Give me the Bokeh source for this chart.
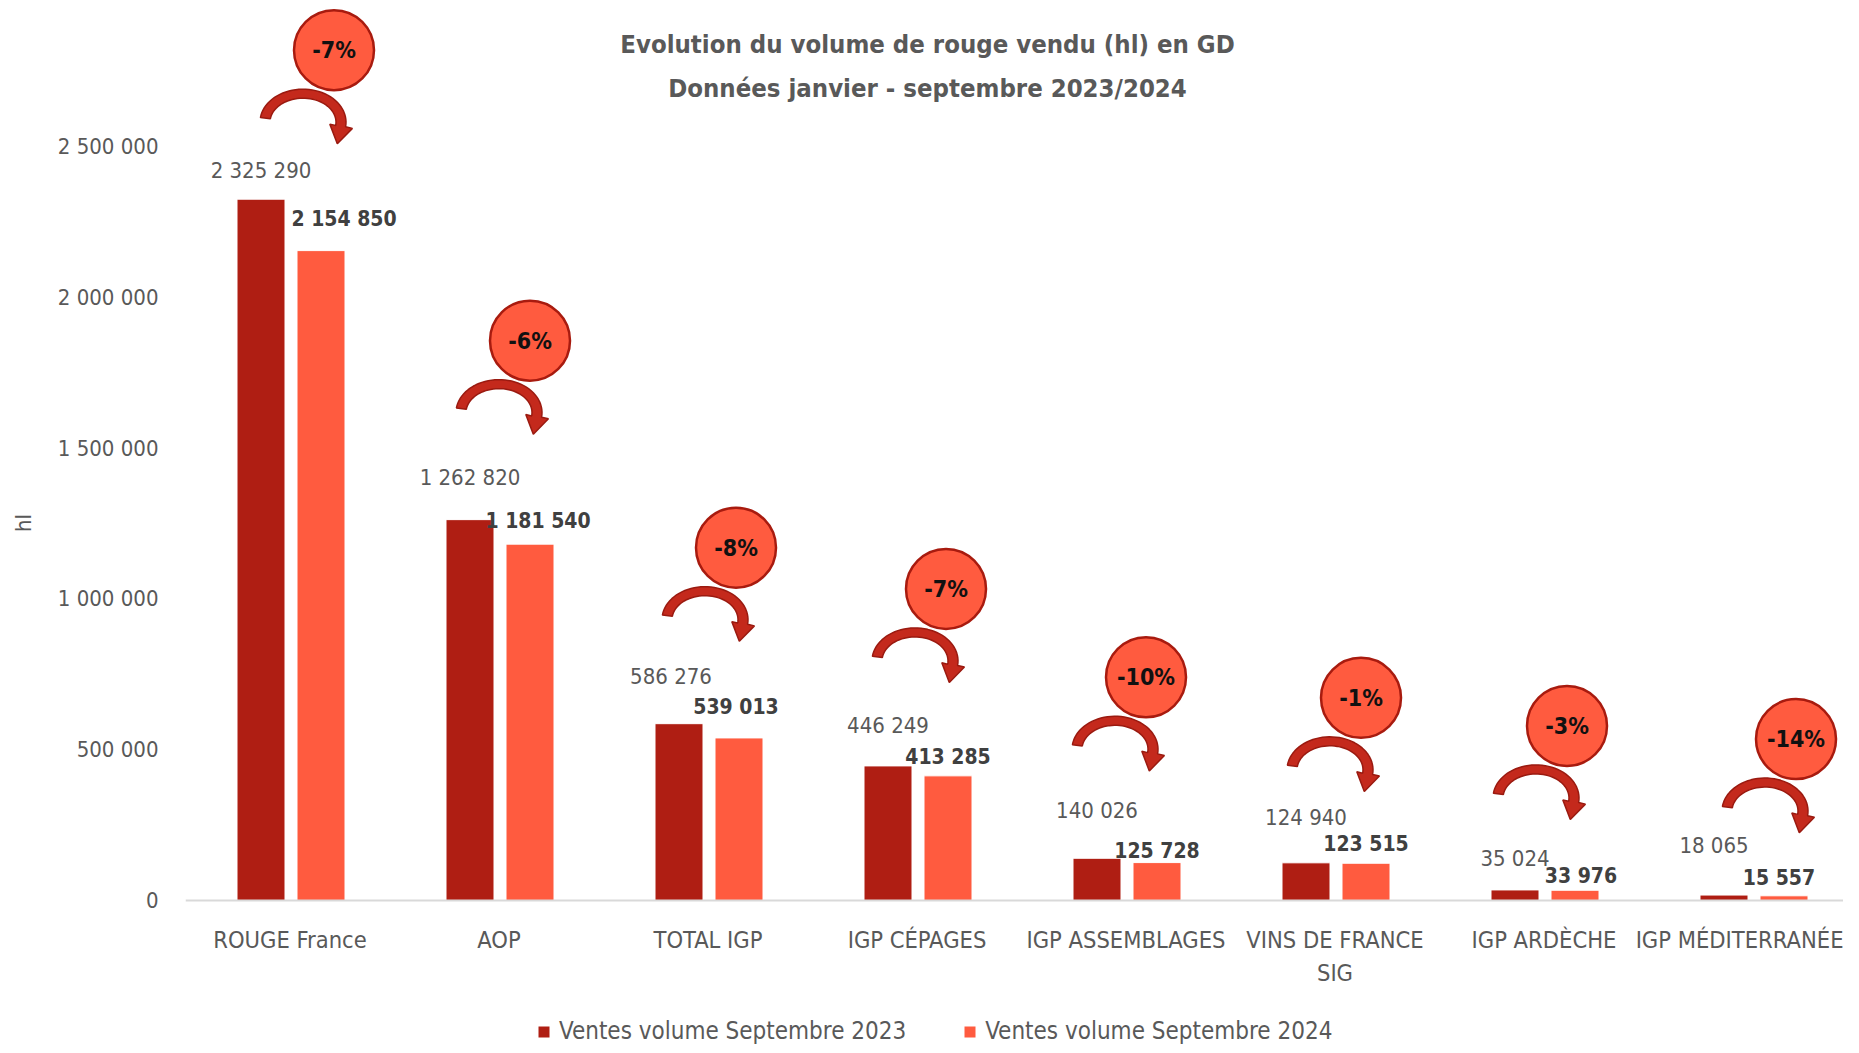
import math
from bokeh.plotting import figure
from bokeh.models import (ColumnDataSource, FixedTicker, Label, Legend, LegendItem, Range1d)
from bokeh.core.properties import value
from bokeh.embed import file_html
from bokeh.resources import INLINE

# ---------------- data ----------------
categories = ["ROUGE France", "AOP", "TOTAL IGP", "IGP CÉPAGES", "IGP ASSEMBLAGES",
              "VINS DE FRANCE\nSIG", "IGP ARDÈCHE", "IGP MÉDITERRANÉE"]
sales_2023 = [2325290, 1262820, 586276, 446249, 140026, 124940, 35024, 18065]
sales_2024 = [2154850, 1181540, 539013, 413285, 125728, 123515, 33976, 15557]
series_names = ["Ventes volume Septembre 2023", "Ventes volume Septembre 2024"]
y_ticks = [0, 500000, 1000000, 1500000, 2000000, 2500000]
y_tick_labels = ["0", "500 000", "1 000 000", "1 500 000", "2 000 000", "2 500 000"]
title_lines = ["Evolution du volume de rouge vendu (hl) en GD",
               "Données janvier - septembre 2023/2024"]

# ---------------- style ----------------
FONT = "DejaVu Sans Condensed"
GREY = "#595959"
C23 = "#AF1E13"
C24 = "#FF5B3F"
W, H = 1843, 1045
LEFT = 185
FRAME_W, FRAME_H = W - LEFT, H
ZERO_Y = 900                      # canvas y of value 0
PX_PER_UNIT_Y = 754 / 2500000
CAT_PX = 209                      # px per category
N = len(categories)
UX = 1 / CAT_PX                   # data units per px (x)
UY = 1 / PX_PER_UNIT_Y            # data units per px (y)
Y_START = -(FRAME_H - ZERO_Y) * UY
Y_END = ZERO_Y * UY
X_END = FRAME_W * UX

# style offsets (px)
lab23_lift = [29, 42, 47, 40, 48, 45, 31, 50]
lab23_dx = [0, 0, -8, 0, 0, 0, 0, -10]
lab24_lift = [32, 23, 31, 19, 12, 19, 14, 18]
lab24_dx = [23, 8, -3, 0, 0, 0, 6, -5]
bubble_lift = [149, 179, 176, 177, 181, 165, 164, 156]
bubble_dx = [44, 31, 28, 29, 20, 26, 23, 43]

def fmt(v):
    return f"{v:,}".replace(",", " ")

centers = [i + 0.5 for i in range(N)]
x23 = [c - 29 * UX for c in centers]
x24 = [c + 31 * UX for c in centers]
bar_w = 48 * UX

p = figure(width=W, height=H, output_backend="svg", toolbar_location=None,
           x_range=Range1d(0, X_END), y_range=Range1d(Y_START, Y_END),
           min_border_left=LEFT, min_border_bottom=0, min_border_top=0, min_border_right=0)
p.outline_line_color = None
p.grid.grid_line_color = None
p.background_fill_color = "white"
p.border_fill_color = "white"

r23 = p.vbar(x=x23, top=sales_2023, width=bar_w, fill_color=C23, line_color="white", line_width=1)
r24 = p.vbar(x=x24, top=sales_2024, width=bar_w, fill_color=C24, line_color="white", line_width=1)

# axes
p.xaxis.fixed_location = 0
p.xaxis.ticker = FixedTicker(ticks=centers)
p.xaxis.major_label_overrides = {c: lab for c, lab in zip(centers, categories)}
p.xaxis.major_tick_line_color = None
p.xaxis.minor_tick_line_color = None
p.xaxis.axis_line_color = "#D9D9D9"
p.xaxis.axis_line_width = 2
p.xaxis.major_label_standoff = 19
p.xaxis.major_label_text_font = FONT
p.xaxis.major_label_text_font_size = "23.5px"
p.xaxis.major_label_text_color = GREY

p.yaxis.ticker = FixedTicker(ticks=y_ticks)
p.yaxis.major_label_overrides = {t: s for t, s in zip(y_ticks, y_tick_labels)}
p.yaxis.axis_line_color = None
p.yaxis.major_tick_line_color = None
p.yaxis.minor_tick_line_color = None
p.yaxis.major_label_standoff = 21
p.yaxis.major_label_text_font = FONT
p.yaxis.major_label_text_font_size = "22px"
p.yaxis.major_label_text_color = GREY
p.yaxis.axis_label = "hl"
p.yaxis.axis_label_standoff = 19
p.yaxis.axis_label_text_font = FONT
p.yaxis.axis_label_text_font_size = "22px"
p.yaxis.axis_label_text_font_style = "normal"
p.yaxis.axis_label_text_color = GREY

# value labels
src23 = ColumnDataSource(dict(x=[x + d * UX for x, d in zip(x23, lab23_dx)],
                              y=[v + l * UY for v, l in zip(sales_2023, lab23_lift)],
                              t=[fmt(v) for v in sales_2023]))
src24 = ColumnDataSource(dict(x=[x + d * UX for x, d in zip(x24, lab24_dx)],
                              y=[v + l * UY for v, l in zip(sales_2024, lab24_lift)],
                              t=[fmt(v) for v in sales_2024]))
p.text(x="x", y="y", text="t", source=src23, text_font=value(FONT), text_font_size="22px",
       text_color=GREY, text_align="center", text_baseline="middle")
p.text(x="x", y="y", text="t", source=src24, text_font=value(FONT), text_font_size="21px",
       text_font_style="bold", text_color="#404040", text_align="center", text_baseline="middle")

# evolution bubbles and curved arrows
bx, by, btxt = [], [], []
arrow_xs, arrow_ys = [], []
for i in range(N):
    bxi = centers[i] + bubble_dx[i] * UX
    byi = sales_2023[i] + bubble_lift[i] * UY
    bx.append(bxi)
    by.append(byi)
    pct = round((sales_2024[i] - sales_2023[i]) / sales_2023[i] * 100)
    btxt.append(f"{pct}%")
    # arrow geometry in px (y up), relative to bubble centre
    ecx, ecy = -31, -72
    rxo, ryo, rxi, ryi = 43, 33, 33, 24
    t0, t1 = math.radians(172), math.radians(-8)
    n = 40
    outer = [(ecx + rxo * math.cos(t0 + (t1 - t0) * k / n), ecy + ryo * math.sin(t0 + (t1 - t0) * k / n)) for k in range(n + 1)]
    inner = [(ecx + rxi * math.cos(t0 + (t1 - t0) * k / n), ecy + ryi * math.sin(t0 + (t1 - t0) * k / n)) for k in range(n + 1)]
    rxm, rym = (rxo + rxi) / 2, (ryo + ryi) / 2
    mx, my = ecx + rxm * math.cos(t1), ecy + rym * math.sin(t1)
    tx, ty = rxm * math.sin(t1), -rym * math.cos(t1)
    tn = math.hypot(tx, ty); tx, ty = tx / tn, ty / tn
    nx, ny = -ty, tx
    ox, oy = outer[-1]
    if (ox - mx) * nx + (oy - my) * ny < 0:
        nx, ny = -nx, -ny
    hb_out = (mx + nx * 12, my + ny * 12)
    hb_in = (mx - nx * 11, my - ny * 11)
    tip = (mx + tx * 18, my + ty * 18)
    pts = outer + [hb_out, tip, hb_in] + inner[::-1]
    arrow_xs.append([bxi + px * UX for px, _ in pts])
    arrow_ys.append([byi + py * UY for _, py in pts])

p.patches(xs=arrow_xs, ys=arrow_ys, fill_color="#C4291C", line_color="#9A1A10", line_width=1.5)
p.scatter(x=bx, y=by, size=80, marker="circle", fill_color=C24, line_color="#A81B0F", line_width=2.5)
p.text(x=bx, y=by, text=btxt, text_font=value(FONT), text_font_size="23px", text_font_style="bold",
       text_color="#111111", text_align="center", text_baseline="middle")

# title
for k, line in enumerate(title_lines):
    p.add_layout(Label(x=742, y=FRAME_H - 43 - 44 * k, x_units="screen", y_units="screen", text=line,
                       text_font=FONT, text_font_size="25.5px", text_font_style="bold", text_color=GREY,
                       text_align="center", text_baseline="middle"))

# legend
legend = Legend(items=[LegendItem(label=series_names[0], renderers=[r23]),
                       LegendItem(label=series_names[1], renderers=[r24])],
                orientation="horizontal", location=(351, 0), border_line_color=None,
                background_fill_alpha=0, label_text_font=FONT, label_text_font_size="24px",
                label_text_color=GREY, glyph_width=15, glyph_height=15, spacing=56,
                label_standoff=8, padding=0, margin=0)
p.add_layout(legend)

open("out.html", "w").write(file_html(p, INLINE))
